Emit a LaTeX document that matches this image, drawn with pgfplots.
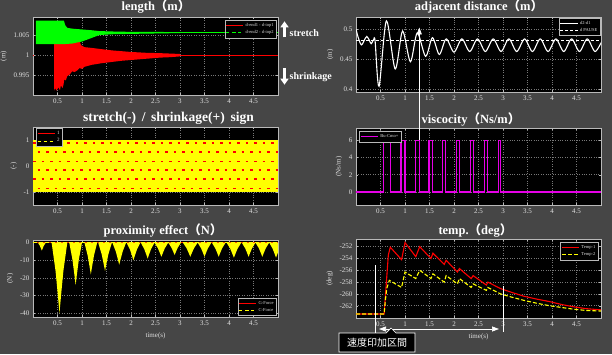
\documentclass[border=0pt]{standalone}
\usepackage{fontspec}
\setmainfont{Liberation Serif}
\newfontfamily\cjk{Noto Sans CJK JP}
\usepackage{pgfplots}
\pgfplotsset{compat=1.18}
\usetikzlibrary{arrows.meta}
\definecolor{bg}{RGB}{70,70,70}
\definecolor{axisgray}{RGB}{185,185,185}
\definecolor{gridgray}{RGB}{120,120,120}
\definecolor{ticktext}{RGB}{225,225,225}
\definecolor{lgreen}{RGB}{0,255,0}
\definecolor{lred}{RGB}{255,0,0}
\definecolor{lyel}{RGB}{255,255,0}
\definecolor{lmag}{RGB}{230,0,230}
\pgfplotsset{
  myax/.style={
    scale only axis, width=245pt, anchor=south west,
    xmin=0, xmax=5,
    axis background/.style={fill=black},
    axis line style={draw=axisgray, line width=0.6pt},
    tick style={draw=axisgray, line width=0.4pt},
    major tick length=2pt, tick align=inside,
    grid=major, grid style={dotted, gridgray, line width=0.5pt},
    xtick={0.5,1,1.5,2,2.5,3,3.5,4,4.5},
    ticklabel style={font=\fontsize{7}{8}\selectfont, text=ticktext},
    /pgf/number format/assume math mode=true,
    label style={font=\fontsize{7}{8}\selectfont, text=ticktext},
    legend cell align=left,
    legend style={fill=black, draw=axisgray, text=ticktext, font=\fontsize{4.5}{5}\selectfont,
      inner sep=1pt, row sep=-1.5pt},
  }
}
\begin{document}
\begin{tikzpicture}
\fill[bg] (0,0) rectangle (612pt,354pt);
\path[use as bounding box] (0,0) rectangle (612pt,354pt);

% ---------- panel 1: length ----------
\begin{axis}[myax, at={(33pt,259pt)}, height=78pt,
  ymin=0.99009, ymax=1.0095, ytick={0.995,1,1.005},
  yticklabel style={/pgf/number format/.cd, fixed, precision=3},
  ylabel={(m)},
  legend style={at={(0.995,0.96)}, anchor=north east}]
\addplot[fill=lred, draw=none, forget plot] coordinates {
 (0.43,1.0030)(0.46,1.0035)(0.50,1.0033)(0.55,1.0037)(0.60,1.0036)(0.65,1.0040)(0.70,1.0038)(0.75,1.0041)(0.80,1.0036)(0.85,1.0038)(0.90,1.0035)(0.95,1.0036)(0.98,1.0025)(1.05,1.0020)(1.2,1.0018)(1.4,1.0015)(1.6,1.0012)(1.8,1.0010)(2.0,1.0008)(2.3,1.0006)(2.6,1.0005)(2.8,1.0004)(3.0,1.0003)
 (3.0,0.9997)(2.8,0.9995)(2.6,0.9994)(2.3,0.9991)(2.0,0.9988)(1.8,0.9986)(1.6,0.9983)(1.4,0.9980)(1.2,0.9976)(1.05,0.9971)(1.0,0.9966)(0.95,0.9968)(0.9,0.9962)(0.85,0.9958)(0.8,0.9960)(0.75,0.9952)(0.70,0.9948)(0.67,0.9937)(0.64,0.9940)(0.62,0.9925)(0.60,0.9918)(0.57,0.9925)(0.55,0.9913)(0.52,0.9920)(0.48,0.9912)(0.45,0.9918)(0.43,0.9912)
} -- cycle;
\addplot[lred, line width=1pt, forget plot] coordinates {(0,1.0)(0.03,1.0)};
\addplot[lred, line width=1pt, forget plot] coordinates {(2.95,1.0)(5,1.0)};
\addplot[fill=lgreen, draw=none, forget plot] coordinates {
 (0.06,1.0086)(0.63,1.0086)(0.66,1.0074)(0.70,1.0068)(0.80,1.0066)(1.0,1.0064)(1.2,1.0062)(1.35,1.0060)(1.6,1.0059)(2.0,1.0058)(2.5,1.0058)(3.0,1.0057)
 (3.0,1.0055)(2.5,1.0054)(2.0,1.0053)(1.6,1.0052)(1.35,1.0050)(1.2,1.0043)(1.0,1.0034)(0.8,1.0029)(0.63,1.00275)(0.06,1.00275)
} -- cycle;
\addplot[lgreen, line width=1pt, forget plot] coordinates {(2.95,1.0056)(5,1.0056)};
\addlegendimage{lred, line width=0.8pt}
\addlegendentry{d-end1 - d-top1}
\addlegendimage{lgreen, line width=0.8pt, dashed}
\addlegendentry{d-end2 - d-top2}
\end{axis}

% ---------- panel 2: adjacent distance ----------
\begin{axis}[myax, at={(356pt,262pt)}, height=75pt,
  ymin=0.3955, ymax=0.5205, ytick={0.4,0.45,0.5},
  ylabel={(m)},
  legend style={at={(0.998,0.99)}, anchor=north east}]
\addplot[white, line width=1.1pt, smooth] coordinates {
 (0,0.500)(0.05,0.485)(0.11,0.474)(0.17,0.482)(0.22,0.488)(0.27,0.482)(0.31,0.476)(0.36,0.483)(0.39,0.480)(0.47,0.405)(0.62,0.514)(0.80,0.434)(0.95,0.497)(1.11,0.446)(1.25,0.494)(1.42,0.455)(1.56,0.486)(1.70,0.458)(1.84,0.484)(2.00,0.462)(2.16,0.484)(2.32,0.463)(2.48,0.484)(2.64,0.463)(2.80,0.484)(2.96,0.463)(3.12,0.484)(3.28,0.463)(3.44,0.484)(3.60,0.463)(3.76,0.484)(3.92,0.463)(4.08,0.484)(4.24,0.463)(4.40,0.484)(4.56,0.463)(4.72,0.484)(4.88,0.463)(5.04,0.484)};
\addlegendentry{d2-d1}
\addplot[white, line width=0.8pt, dash pattern=on 3pt off 2pt] coordinates {(0,0.481)(5,0.481)};
\addlegendentry{d PAUSE}
\end{axis}

% ---------- panel 3: sign ----------
\begin{axis}[myax, at={(33pt,149pt)}, height=78pt,
  ymin=-1.51, ymax=1.5, ytick={-1,0,1},
  ylabel={(-)},
  legend style={at={(0.012,0.985)}, anchor=north west, font=\fontsize{5}{6}\selectfont}]
\addplot[fill=lyel, draw=none, forget plot] coordinates {(0,-1)(5,-1)(5,1)(0,1)} -- cycle;
\addplot[lred, line width=1.8pt, dash pattern=on 2.8pt off 5.7pt, forget plot] coordinates {(0,0.87)(5,0.87)};
\addplot[lred, line width=1.8pt, dash pattern=on 2.8pt off 5.7pt, dash phase=4pt, forget plot] coordinates {(0,0.52)(5,0.52)};
\addplot[lred, line width=1.8pt, dash pattern=on 2.8pt off 5.7pt, forget plot] coordinates {(0,0.17)(5,0.17)};
\addplot[lred, line width=1.8pt, dash pattern=on 2.8pt off 5.7pt, dash phase=4pt, forget plot] coordinates {(0,-0.17)(5,-0.17)};
\addplot[lred, line width=1.8pt, dash pattern=on 2.8pt off 5.7pt, forget plot] coordinates {(0,-0.52)(5,-0.52)};
\addplot[lred, line width=1.8pt, dash pattern=on 2.8pt off 5.7pt, dash phase=4pt, forget plot] coordinates {(0,-0.87)(5,-0.87)};
\addlegendimage{lred, line width=0.8pt}
\addlegendentry{1}
\addlegendimage{lyel, line width=0.8pt, dashed}
\addlegendentry{2}
\end{axis}

% ---------- panel 4: viscosity ----------
\begin{axis}[myax, at={(356pt,149pt)}, height=77pt,
  ymin=-1.5, ymax=7.4, ytick={0,2,4,6},
  ylabel={(Ns/m)},
  legend style={at={(0.012,0.96)}, anchor=north west}]
\addplot[lmag, line width=1.2pt] coordinates {
 (0,0)(0.56,0)(0.56,6)(0.70,6)(0.70,0)(0.92,0)(0.92,6)(1.00,6)(1.00,0)(1.21,0)(1.21,6)(1.29,6)(1.29,0)(1.49,0)(1.49,6)(1.56,6)(1.56,0)(1.77,0)(1.77,6)(1.83,6)(1.83,0)(2.05,0)(2.05,6)(2.11,6)(2.11,0)(2.34,0)(2.34,6)(2.39,6)(2.39,0)(2.63,0)(2.63,6)(2.68,6)(2.68,0)(2.91,0)(2.91,6)(2.95,6)(2.95,0)(5,0)};
\addlegendentry{Bu-Cmo+}
\end{axis}

% ---------- panel 5: proximity effect ----------
\begin{axis}[myax, at={(33pt,37pt)}, height=77pt,
  ymin=-42.1, ymax=1.5, ytick={-40,-30,-20,-10,0},
  ylabel={(N)}, xlabel={time(s)},
  legend style={at={(0.995,0.015)}, anchor=south east}]
\addplot[lred, line width=0.8pt, forget plot] coordinates {(0,0)(5,0)};
\addplot[fill=lyel, draw=none, forget plot] coordinates {
 (0,0)
 (0.10,0)(0.14,-1.8)(0.164,-3.375)(0.18,-4.5)(0.196,-3.375)(0.22,-1.8)(0.26,0)
 (0.38,0)(0.46,-16)(0.508,-30)(0.54,-40)(0.572,-30)(0.62,-16)(0.70,0)
 (0.74,0)(0.805,-9.6)(0.844,-18)(0.87,-24)(0.896,-18)(0.935,-9.6)(1.00,0)
 (1.05,0)(1.115,-7.2)(1.154,-13.5)(1.18,-18)(1.206,-13.5)(1.245,-7.2)(1.31,0)
 (1.33,0)(1.40,-6.4)(1.442,-12)(1.47,-16)(1.498,-12)(1.54,-6.4)(1.61,0)
 (1.62,0)(1.69,-5)(1.732,-9.4)(1.76,-12.5)(1.788,-9.4)(1.83,-5)(1.90,0)
 (1.91,0)(1.98,-4)(2.022,-7.5)(2.05,-10)(2.078,-7.5)(2.12,-4)(2.19,0)
 (2.20,0)(2.27,-3.6)(2.312,-6.75)(2.34,-9)(2.368,-6.75)(2.41,-3.6)(2.48,0)
 (2.55,-3.2)(2.592,-6)(2.62,-8)(2.648,-6)(2.69,-3.2)(2.76,0)
 (2.825,-2.8)(2.864,-5.25)(2.89,-7)(2.916,-5.25)(2.955,-2.8)(3.02,0)
 (3.06,0)(3.135,-3.2)(3.18,-6)(3.21,-8)(3.24,-6)(3.285,-3.2)(3.36,0)
 (3.43,-3.2)(3.472,-6)(3.50,-8)(3.528,-6)(3.57,-3.2)(3.64,0)
 (3.65,0)(3.72,-3.2)(3.762,-6)(3.79,-8)(3.818,-6)(3.86,-3.2)(3.93,0)
 (3.95,0)(4.025,-3.4)(4.07,-6.4)(4.10,-8.5)(4.13,-6.4)(4.175,-3.4)(4.25,0)
 (4.26,0)(4.33,-3.2)(4.372,-6)(4.40,-8)(4.428,-6)(4.47,-3.2)(4.54,0)
 (4.61,-3.2)(4.652,-6)(4.68,-8)(4.708,-6)(4.75,-3.2)(4.82,0)
 (4.89,-3.4)(4.932,-6.4)(4.96,-8.5)(4.988,-6.4)(5.03,-3.4)(5.10,0)
} -- cycle;
\addplot[lyel, line width=1pt, dash pattern=on 4pt off 2pt, forget plot] coordinates {(0,0)(5,0)};
\addlegendimage{lred, line width=0.8pt}
\addlegendentry{G-Force}
\addlegendimage{lyel, line width=0.8pt, dashed}
\addlegendentry{C-Force}
\end{axis}

% ---------- panel 6: temp ----------
\begin{axis}[myax, at={(356pt,36pt)}, height=79pt,
  ymin=-264.08, ymax=-250.7, ytick={-262,-260,-258,-256,-254,-252},
  ylabel={(deg)}, xlabel={time(s)},
  legend style={at={(0.99,0.96)}, anchor=north east}]
\addplot[lred, line width=1.1pt] coordinates {
 (0,-263.4)(0.574,-263.4)(0.62,-258.0)(0.66,-253.4)(0.70,-252.1)(0.93,-254.2)(1.0,-251.3)(1.22,-253.7)(1.30,-252.0)(1.53,-254.0)(1.57,-253.1)(1.80,-255.0)(1.84,-254.3)(2.07,-256.3)(2.11,-255.7)(2.35,-257.4)(2.39,-256.9)(2.66,-258.5)(2.69,-258.0)(2.95,-259.1)(3.2,-259.8)(3.43,-260.4)(3.7,-260.9)(3.95,-261.3)(4.2,-261.8)(4.45,-262.2)(4.7,-262.5)(5.0,-262.7)};
\addlegendentry{Temp-1}
\addplot[lyel, line width=1.1pt, dash pattern=on 4pt off 2pt] coordinates {
 (0,-263.4)(0.574,-263.4)(0.60,-261.0)(0.63,-259.0)(0.68,-257.7)(0.93,-258.9)(1.0,-256.3)(1.22,-257.4)(1.30,-256.0)(1.53,-257.4)(1.57,-256.6)(1.80,-258.0)(1.84,-256.9)(2.07,-258.3)(2.11,-257.4)(2.35,-258.9)(2.39,-258.3)(2.66,-259.4)(2.69,-258.9)(2.95,-260.0)(3.2,-260.6)(3.43,-261.1)(3.7,-261.6)(3.95,-262.0)(4.2,-262.3)(4.45,-262.6)(4.7,-262.8)(5.0,-262.9)};
\addlegendentry{Temp-2}
\end{axis}

% ---------- titles ----------
\begin{scope}[every node/.style={text=white, font=\fontsize{12.5}{14}\selectfont\bfseries, anchor=base, inner sep=0pt}]
\node at (156pt,343pt) {length{\cjk （}m{\cjk ）}};
\node at (479pt,343pt) {adjacent distance{\cjk （}m{\cjk ）}};
\node[font=\fontsize{13.5}{15}\selectfont\bfseries] at (168.5pt,232.5pt) {stretch(-)\,\ /\ \,shrinkage(+)\,\ sign};
\node at (471pt,231pt) {viscocity{\cjk （}Ns/m{\cjk ）}};
\node at (163pt,119.5pt) {proximity effect{\cjk （}N{\cjk ）}};
\node at (475.5pt,119.5pt) {temp.{\cjk （}deg{\cjk ）}};
\end{scope}

% ---------- annotations ----------
\draw[white, line width=3.3pt, -{Triangle[width=8pt,length=6pt]}] (284.5pt,316.7pt) -- (284.5pt,332.7pt);
\draw[white, line width=3.3pt, -{Triangle[width=8pt,length=6pt]}] (284.5pt,286pt) -- (284.5pt,269.3pt);
\node[text=white, font=\fontsize{10}{12}\selectfont\bfseries, anchor=base west, inner sep=0pt] at (289.5pt,317pt) {stretch};
\node[text=white, font=\fontsize{10}{12}\selectfont\bfseries, anchor=base west, inner sep=0pt] at (289.5pt,274pt) {shrinkage};

\draw[white, line width=0.7pt, -{Triangle[width=5pt,length=7pt]}] (419.3pt,214pt) -- (419.3pt,326.5pt);

\draw[white, line width=0.7pt] (375.5pt,89pt) -- (375.5pt,21pt);
\draw[white, line width=0.7pt] (503.3pt,68pt) -- (503.3pt,22pt);
\draw[white, line width=0.7pt, {Triangle[width=5pt,length=7pt]}-{Triangle[width=5pt,length=7pt]}] (379pt,25pt) -- (499pt,25pt);
\draw[white, line width=0.7pt, fill=black] (339pt,21pt) -- (386pt,21pt) -- (391pt,26pt) -- (396pt,21pt) -- (415pt,21pt) -- (415pt,2pt) -- (339pt,2pt) -- cycle;
\node[text=white, font=\cjk\fontsize{10}{12}\selectfont, inner sep=0pt] at (377pt,11.5pt) {速度印加区間};
\end{tikzpicture}
\end{document}
